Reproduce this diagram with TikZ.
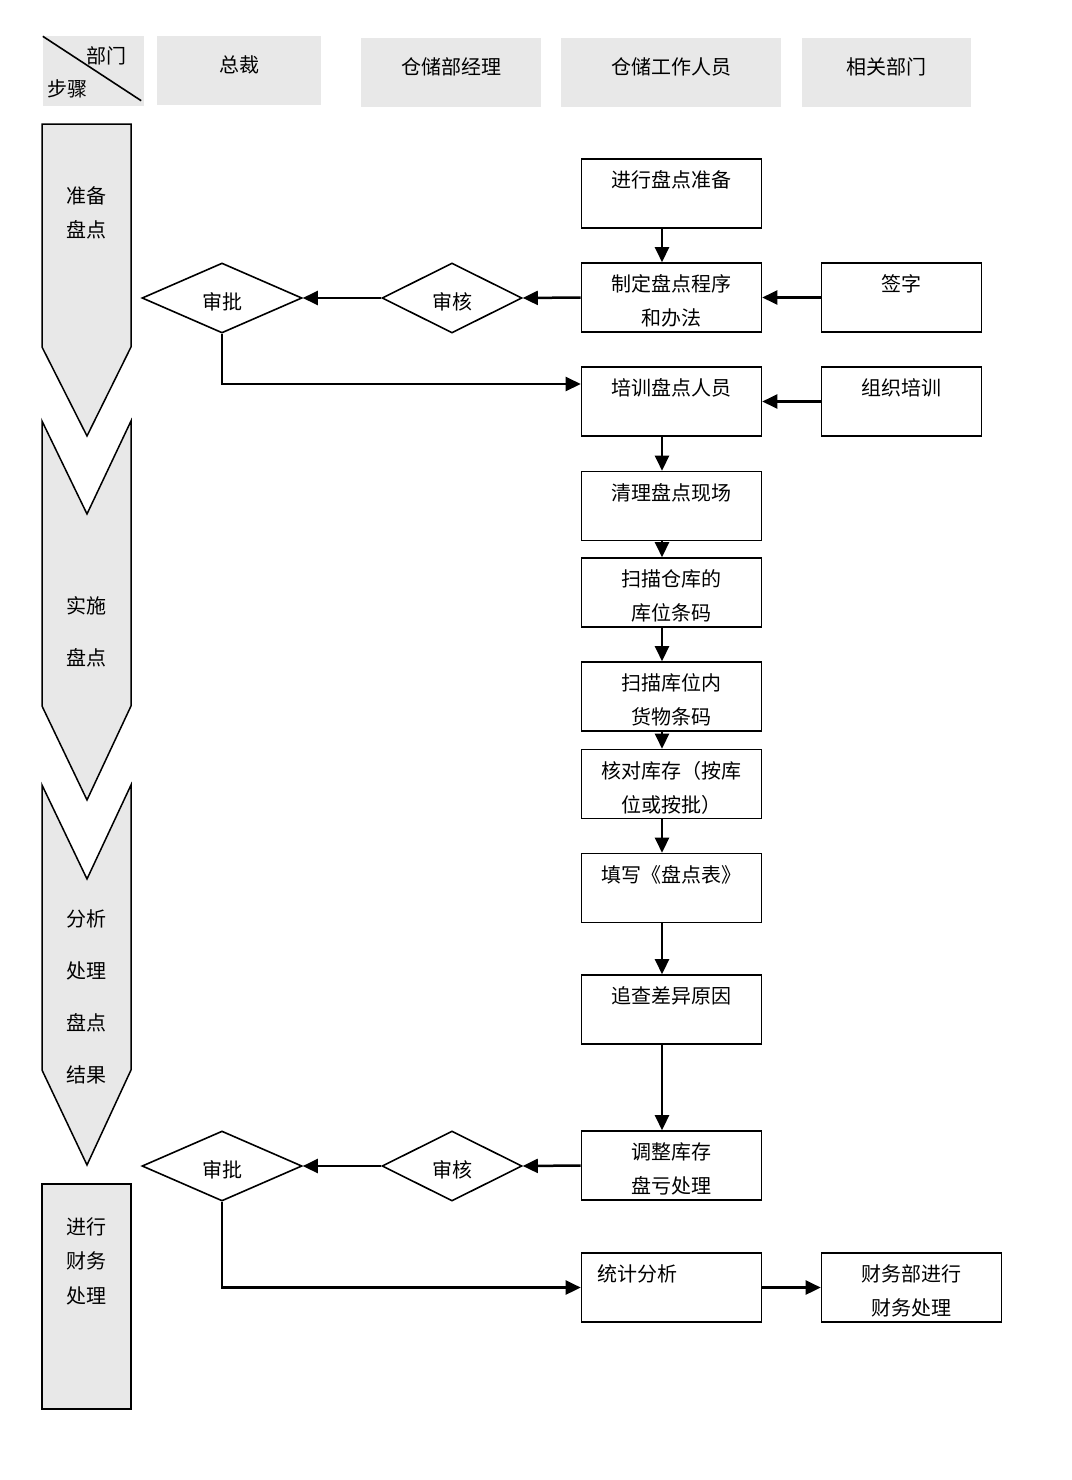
\documentclass[tikz,border=0pt]{standalone}
\usepackage{fontspec}
\newfontfamily\cjk{Noto Sans CJK SC}
\usetikzlibrary{shapes.geometric,arrows.meta}
\definecolor{hdrgray}{HTML}{E8E8E8}

\tikzset{
  txt/.style={inner sep=0pt, align=center, font=\cjk\fontsize{20pt}{34pt}\selectfont},
  boxtxt/.style={txt, anchor=north},
  hdr/.style={fill=hdrgray, inner sep=0pt, minimum height=69pt},
  box/.style={draw, line width=1.6pt, minimum width=180pt, minimum height=69pt, inner sep=0pt},
  dia/.style={draw, diamond, aspect=2.2, line width=1.6pt, minimum height=70pt, inner sep=0pt,
              text height=25pt, text depth=2pt, font=\cjk\fontsize{20pt}{24pt}\selectfont},
  stage/.style={draw, fill=hdrgray, line width=1.5pt, line join=miter},
  arr/.style={->, line width=2.5pt}
}

\begin{document}
\begin{tikzpicture}[x=1pt, y=-1pt, >={Triangle[length=15pt,width=14pt]}]
\useasboundingbox (0,0) rectangle (1071,1480);
%header
\node[hdr, minimum width=101pt] (hc) at (93.5,71) {};
\draw[line width=1.6pt] (hc.north west) -- ([xshift=-3pt,yshift=5pt]hc.south east);
\node[txt] (hcdept) at (106,56) {部门};
\node[txt] (hcstep) at (67,89) {步骤};
\node[hdr, minimum width=164pt] (h1) at (239,70.5) {};
\node[txt] (h1t) at ([yshift=6pt]h1.center) {总裁};
\node[hdr, minimum width=180pt] (h2) at (451,72.5) {};
\node[txt] (h2t) at ([yshift=6pt]h2.center) {仓储部经理};
\node[hdr, minimum width=220pt] (h3) at (671,72.5) {};
\node[txt] (h3t) at ([yshift=6pt]h3.center) {仓储工作人员};
\node[hdr, minimum width=169pt] (h4) at (886.5,72.5) {};
\node[txt] (h4t) at ([yshift=6pt]h4.center) {相关部门};

%stages
\draw[stage] (42,124) -- (131,124) -- (131,347) -- (87,436) -- (42,347) -- cycle;
\draw[stage] (42,421) -- (87,514) -- (131,421) -- (131,706) -- (87,800) -- (42,706) -- cycle;
\draw[stage] (42,785) -- (87,879) -- (131,785) -- (131,1070) -- (87,1165) -- (42,1070) -- cycle;
\draw[stage] (42,1184) rectangle (131,1409);
\node[txt] (s1a) at (86,196) {准备};
\node[txt] (s1b) at (86,230) {盘点};
\node[txt] (s2a) at (86,606) {实施};
\node[txt] (s2b) at (86,658) {盘点};
\node[txt] (s3a) at (86,919) {分析};
\node[txt] (s3b) at (86,971) {处理};
\node[txt] (s3c) at (86,1023) {盘点};
\node[txt] (s3d) at (86,1075) {结果};
\node[txt] (s4a) at (86,1227) {进行};
\node[txt] (s4b) at (86,1261) {财务};
\node[txt] (s4c) at (86,1296) {处理};

%warehouse staff steps
\node[box] (b1) at (671.5,193.5) {};
\node[boxtxt] (b1t) at ([yshift=-12.5pt]b1.north) {进行盘点准备};
\node[box] (b2) at (671.5,297.5) {};
\node[boxtxt] (b2t) at ([yshift=-12.5pt]b2.north) {制定盘点程序\\和办法};
\node[box] (b3) at (671.5,401.5) {};
\node[boxtxt] (b3t) at ([yshift=-12.5pt]b3.north) {培训盘点人员};
\node[box] (b4) at (671.5,506) {};
\node[boxtxt] (b4t) at ([yshift=-12.5pt]b4.north) {清理盘点现场};
\node[box] (b5) at (671.5,592.5) {};
\node[boxtxt] (b5t) at ([yshift=-12.5pt]b5.north) {扫描仓库的\\库位条码};
\node[box] (b6) at (671.5,696.5) {};
\node[boxtxt] (b6t) at ([yshift=-12.5pt]b6.north) {扫描库位内\\货物条码};
\node[box] (b7) at (671.5,784) {};
\node[boxtxt] (b7t) at ([yshift=-12.5pt]b7.north) {核对库存（按库\\位或按批）};
\node[box] (b8) at (671.5,888) {};
\node[boxtxt] (b8t) at ([yshift=-12.5pt]b8.north) {填写《盘点表》};
\node[box] (b9) at (671.5,1009.5) {};
\node[boxtxt] (b9t) at ([yshift=-12.5pt]b9.north) {追查差异原因};
\node[box] (b10) at (671.5,1165.5) {};
\node[boxtxt] (b10t) at ([yshift=-12.5pt]b10.north) {调整库存\\盘亏处理};
\node[box] (b11) at (671.5,1287.5) {};
\node[boxtxt, anchor=north west] (b11t) at ([xshift=17pt,yshift=-12.5pt]b11.north west) {统计分析};

%other departments
\node[box, minimum width=160pt] (r1) at (901.5,297.5) {};
\node[boxtxt] (r1t) at ([yshift=-12.5pt]r1.north) {签字};
\node[box, minimum width=160pt] (r2) at (901.5,401.5) {};
\node[boxtxt] (r2t) at ([yshift=-12.5pt]r2.north) {组织培训};
\node[box] (r3) at (911.5,1287.5) {};
\node[boxtxt] (r3t) at ([yshift=-12.5pt]r3.north) {财务部进行\\财务处理};

%approval
\node[dia, minimum width=160pt] (sp1) at (222,298) {审批};
\node[dia, minimum width=140pt] (sh1) at (452,298) {审核};
\node[dia, minimum width=160pt] (sp2) at (222,1166) {审批};
\node[dia, minimum width=140pt] (sh2) at (452,1166) {审核};

%flow
\foreach \a/\b in {b1/b2, b3/b4, b4/b5, b5/b6, b6/b7, b7/b8, b8/b9, b9/b10}
{
  \draw[arr] ([xshift=-9.5pt]\a.south) -- ([xshift=-9.5pt]\b.north);
}
\draw[arr] (r1.west) -- (b2.east);
\draw[arr] (b2.west) -- (sh1.east);
\draw[arr] (sh1.west) -- (sp1.east);
\draw[arr] (sp1.south) |- ([yshift=17.5pt]b3.west);
\draw[arr] (r2.west) -- (b3.east);
\draw[arr] (b10.west) -- (sh2.east);
\draw[arr] (sh2.west) -- (sp2.east);
\draw[arr] (sp2.south) |- (b11.west);
\draw[arr] (b11.east) -- (r3.west);
\end{tikzpicture}
\end{document}
